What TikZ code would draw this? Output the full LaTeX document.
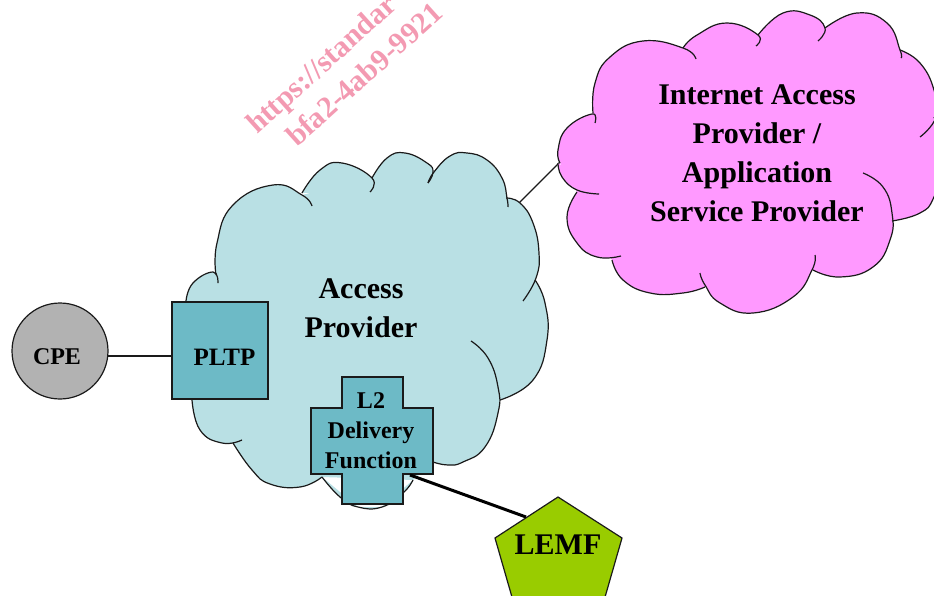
\documentclass[tikz,border=0pt]{standalone}
\usepackage{fontspec}
\setmainfont{Liberation Serif}
\definecolor{cloudblue}{HTML}{B9E0E4}
\definecolor{boxteal}{HTML}{6DBAC6}
\definecolor{cloudpink}{HTML}{FF99FF}
\definecolor{cpegray}{HTML}{B2B2B2}
\definecolor{lemfgreen}{HTML}{99CC00}
\definecolor{wmark}{HTML}{F39AB2}
\definecolor{ink}{HTML}{1A1A1A}
\newcommand{\lobepart}[1]{plot[smooth,tension=.8] coordinates {#1} -- cycle}
\newcommand{\lobeline}[1]{\draw[cloudline] plot[smooth,tension=.8] coordinates {#1};}
\newcommand{\bluelobes}[1]{%
 #1{(186,301) (193,283) (213,272) (218,283)}
 #1{(216,275) (217,243) (233,205) (273,185) (302,195) (312,206)}
 #1{(302,193) (320,170) (342,163) (372,178) (370,192)}
 #1{(372,178) (387,158) (405,153) (427,163) (433,172) (428,183)}
 #1{(428,183) (434,172) (450,156) (467,153) (487,160) (502,178) (507,198) (508,207)}
 #1{(506,198) (520,203) (533,223) (539,253) (536,278) (523,301)}
 #1{(535,280) (545,303) (547,340) (533,380) (500,400)}
 #1{(471,341) (488,358) (498,387) (498,413) (485,447) (463,462) (448,465) (433,462)}
 #1{(322,477) (340,497) (358,507) (382,507) (403,493) (413,480)}
 #1{(322,477) (300,487) (270,484) (252,470) (233,443)}
 #1{(242,440) (222,443) (200,430) (192,400)}
}
\newcommand{\pinklobes}[1]{%
 #1{(560,163) (558,150) (567,128) (592,114) (595,123)}
 #1{(593,113) (595,83) (610,57) (643,41) (683,48) (696,59)}
 #1{(683,48) (697,35) (727,23) (758,35) (756,46)}
 #1{(758,35) (783,13) (810,15) (825,28) (818,41)}
 #1{(825,28) (857,13) (887,23) (900,50) (901,58)}
 #1{(900,50) (920,63) (934,90) (936,117) (920,137)}
 #1{(934,117) (945,160) (934,197) (920,213) (892,221)}
 #1{(863,173) (883,187) (892,213) (890,240) (873,267) (840,277) (813,270)}
 #1{(815,255) (812,270) (793,297) (753,313) (720,303) (705,285) (700,273)}
 #1{(705,287) (683,293) (650,293) (623,280) (612,260)}
 #1{(621,256) (597,257) (577,243) (567,217) (577,192)}
 #1{(599,194) (577,190) (562,177) (558,163)}
}
\tikzset{
 cloudline/.style={draw=ink,line width=1.2pt},
 lbl/.style={font=\bfseries\fontsize{#1}{#1}\selectfont,text=black,inner sep=0pt},
 boxshape/.style={draw=ink,line width=1.4pt,fill=boxteal},
 wtext/.style={font=\bfseries\fontsize{30}{30}\selectfont,text=wmark,rotate=42,anchor=base west,inner sep=0pt},
}
\begin{document}
\begin{tikzpicture}[x=1pt,y=-1pt]
\useasboundingbox (0,0) rectangle (934,596);
\clip (0,0) rectangle (934,596);
\node[wtext] (wa) at (257,135) {https://standar};
\node[wtext] (wb) at (297,148) {bfa2-4ab9-9921};
% link between the clouds
\coordinate (apEdge) at (516,206);
\coordinate (ispEdge) at (560,162);
\draw[draw=ink,line width=1.2pt] (apEdge) -- (ispEdge);
% access provider cloud
\fill[cloudblue] (186,301) -- (216,275) -- (302,195) -- (372,178) -- (433,172) -- (506,198) -- (535,280) -- (500,400) -- (433,462) -- (413,480) -- (382,507) -- (358,507) -- (322,477) -- (233,443) -- (192,400) -- cycle \bluelobes{\lobepart};
\bluelobes{\lobeline}
% ISP cloud
\fill[cloudpink] (560,163) -- (593,113) -- (683,48) -- (758,35) -- (825,28) -- (900,50) -- (934,117) -- (934,197) -- (892,221) -- (813,270) -- (705,287) -- (612,260) -- (577,192) -- cycle \pinklobes{\lobepart};
\pinklobes{\lobeline}
\node[lbl=30,align=center] (isp) at (757,153) {Internet Access\\[9pt]Provider /\\[9pt]Application\\[9pt]Service Provider};
\node[lbl=30,align=center] (ap) at (361,308) {Access\\[9pt]Provider};
% CPE and PLTP
\node[circle,draw=ink,line width=1.2pt,fill=cpegray,minimum size=96pt,inner sep=0pt] (cpe) at (60,351) {};
\node[lbl=24] (cpetext) at (57,357) {CPE};
\node[rectangle,boxshape,minimum width=96pt,minimum height=97pt,inner sep=0pt] (pltp) at (220,350.5) {};
\node[lbl=25] (pltptext) at (224.5,357) {PLTP};
\draw[draw=ink,line width=1.4pt] (cpe.-6) -- (cpe.-6 -| pltp.west);
% L2 delivery function
\draw[boxshape] (342,377) -- (403,377) -- (403,408) -- (433,408) -- (433,474) -- (403,474) -- (403,504) -- (342,504) -- (342,474) -- (311,474) -- (311,408) -- (342,408) -- cycle;
\node[lbl=24,align=center] (l2) at (371,431) {L2\\[6pt]Delivery\\[6pt]Function};
\coordinate (l2Edge) at (410,475);
% LEMF
\coordinate (lemfEdge) at (526,517);
\draw[draw=ink,line width=1.2pt,fill=lemfgreen] (558,497) -- (622,538) -- (599,618) -- (518,618) -- (495,538) -- cycle;
\node[lbl=30] (lemf) at (558,545) {LEMF};
\draw[draw=black,line width=3pt] (l2Edge) -- (lemfEdge);
\end{tikzpicture}
\end{document}
